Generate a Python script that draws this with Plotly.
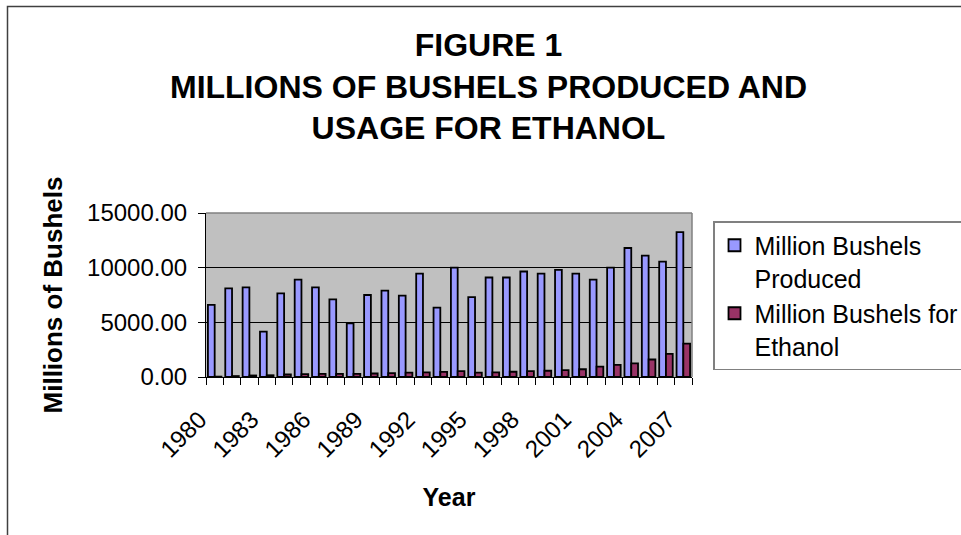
import plotly.graph_objects as go

years = list(range(1980, 2008))
produced = [6600, 8100, 8200, 4150, 7650, 8900, 8200, 7100, 4900, 7500,
            7900, 7450, 9450, 6350, 10000, 7300, 9100, 9100, 9650, 9450,
            9800, 9450, 8900, 10000, 11800, 11100, 10550, 13250]
ethanol = [35, 85, 140, 160, 230, 270, 290, 280, 290, 320,
           350, 400, 430, 460, 530, 400, 430, 480, 530, 570,
           630, 710, 950, 1100, 1250, 1600, 2120, 3050]
label_years = list(range(1980, 2008, 3))
series_names = ["Million Bushels<br>Produced", "Million Bushels for<br>Ethanol"]

FONT = "Liberation Sans, Arial, sans-serif"
W, H = 961, 535
L, R, T, B = 206, 692, 213, 377  # plot area in px


def px_x(p):
    return (p - L) / (R - L)


def px_y(p):
    return (B - p) / (B - T)


fig = go.Figure()
fig.add_trace(go.Bar(
    x=years, y=produced, name=series_names[0], legendgroup="a",
    marker=dict(color="#9999FF", line=dict(color="black", width=1.8)),
))
fig.add_trace(go.Bar(
    x=years, y=ethanol, name=series_names[1], legendgroup="b",
    marker=dict(color="#993366", line=dict(color="black", width=1.8)),
))

fig.update_layout(
    width=W, height=H,
    margin=dict(l=L, r=W - R, t=T, b=H - B, autoexpand=False),
    paper_bgcolor="white",
    plot_bgcolor="#C0C0C0",
    barmode="group",
    bargap=0.22,
    bargroupgap=0,
    font=dict(family=FONT, color="black"),
    title=dict(
        text="FIGURE 1<br>MILLIONS OF BUSHELS PRODUCED AND<br>USAGE FOR ETHANOL",
        font=dict(family=FONT, size=32, weight="bold", color="black"),
        x=488.5 / W, xref="container", xanchor="center",
        y=1 - 56 / H, yref="container", yanchor="top",
    ),
    legend=dict(
        x=px_x(713), y=px_y(221), xanchor="left", yanchor="top",
        bgcolor="white", bordercolor="#808080", borderwidth=1.5,
        font=dict(family=FONT, size=25, color="black"),
        valign="top", tracegroupgap=0,
    ),
    showlegend=True,
)

fig.update_xaxes(
    range=[1979.5, 2007.5],
    tickmode="array", tickvals=label_years, ticktext=[str(y) for y in label_years],
    ticks="", tickangle=-45,
    ticklabelstandoff=18, ticklabelshift=-15,
    tickfont=dict(family=FONT, size=24, color="black"),
    showgrid=False, zeroline=False,
    showline=True, linecolor="black", linewidth=1,
    minor=dict(tick0=1979.5, dtick=1, ticks="outside", ticklen=7,
               tickcolor="black", tickwidth=1, showgrid=False),
    title=dict(text="Year", font=dict(family=FONT, size=25, weight="bold", color="black"),
               standoff=26),
)
fig.update_yaxes(
    range=[0, 15000], dtick=5000, tick0=0, tickformat=".2f",
    ticks="outside", ticklen=7, tickcolor="black", tickwidth=1,
    ticklabelstandoff=6,
    tickfont=dict(family=FONT, size=24, color="black"),
    showgrid=True, gridcolor="black", gridwidth=1,
    zeroline=False,
    showline=True, linecolor="black", linewidth=1,
    title=dict(text="Millions of Bushels",
               font=dict(family=FONT, size=26, weight="bold", color="black"),
               standoff=16),
)

# plot-area top/right border (gray) and outer chart frame
fig.add_shape(type="line", xref="paper", yref="paper", x0=0, x1=1, y0=1, y1=1,
              line=dict(color="#808080", width=1.5))
fig.add_shape(type="line", xref="paper", yref="paper", x0=1, x1=1, y0=0, y1=1,
              line=dict(color="#808080", width=1.5))
fig.add_shape(type="rect", xref="paper", yref="paper",
              x0=px_x(7.5), x1=px_x(990), y0=px_y(560), y1=px_y(6.5),
              line=dict(color="#404040", width=1.5), layer="above")

fig.write_html("out.html")
